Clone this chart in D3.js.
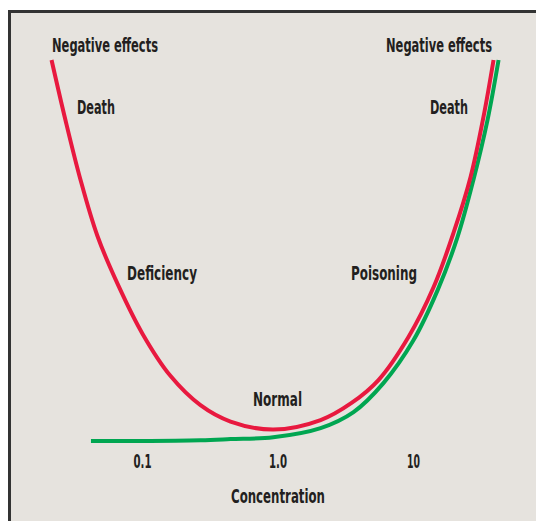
<!DOCTYPE html>
<html>
<head>
<meta charset="utf-8">
<script src="https://cdn.jsdelivr.net/npm/d3@7"></script>
<style>
  body { margin: 0; background: #fff; }
  text { font-family: "Liberation Sans Narrow", "DejaVu Sans Condensed", sans-serif; font-weight: bold; fill: #231f20; }
</style>
</head>
<body>
<div id="chart"></div>
<script>
// concentration (log) vs. negative effects (0 = none, 100 = death)
const deficiencyConc = [0.0215, 0.0272, 0.0352, 0.0469, 0.0671, 0.101, 0.162, 0.27, 0.45, 0.934, 2.08, 3.52, 5.56, 9.26, 14.2, 19.9, 26.6, 33.1, 39.3];
const deficiencyEffect = [100, 84.3, 68.5, 53.8, 40.7, 28.1, 17.1, 9.4, 5.1, 3.0, 5.5, 10, 16, 27.3, 40.4, 54.6, 69.3, 85, 100];

const toxicConc = [0.042, 0.0975, 0.27, 0.45, 0.93, 2.08, 3.64, 6.05, 10.1, 15.2, 21.3, 27.9, 35.5, 42.8];
const toxicEffect = [0, 0, 0.2, 0.5, 1.0, 3.4, 7.6, 15.2, 26.5, 39.6, 53.5, 68.5, 84.3, 100];

const tickValues = [0.1, 1, 10];
const tickLabels = ['0.1', '1.0', '10'];
const labelTexts = ['Negative effects', 'Negative effects', 'Death', 'Death', 'Deficiency', 'Poisoning', 'Normal'];
const axisTitle = 'Concentration';

const width = 536, height = 521;

const svg = d3.select('#chart')
    .append('svg')
    .attr('width', width)
    .attr('height', height);

// panel with a dark frame on the top and left
svg.append('rect')
    .attr('x', 9.5)
    .attr('y', 11.5)
    .attr('width', 600)
    .attr('height', 600)
    .attr('fill', '#e6e3de')
    .attr('stroke', '#333')
    .attr('stroke-width', 3);

const x = d3.scaleLog()
    .domain([0.1, 10])
    .range([142, 413]);

const y = d3.scaleLinear()
    .domain([0, 100])
    .range([441, 60]);

const line = d3.line()
    .x(d => x(d[0]))
    .y(d => y(d[1]))
    .curve(d3.curveCatmullRom.alpha(0.5));

// green first, red on top
svg.append('path')
    .datum(d3.zip(toxicConc, toxicEffect))
    .attr('d', line)
    .attr('fill', 'none')
    .attr('stroke', '#00a651')
    .attr('stroke-width', 4);

svg.append('path')
    .datum(d3.zip(deficiencyConc, deficiencyEffect))
    .attr('d', line)
    .attr('fill', 'none')
    .attr('stroke', '#e8193f')
    .attr('stroke-width', 4);

// axis labels
const axis = d3.axisBottom(x)
    .tickValues(tickValues)
    .tickFormat((d, i) => tickLabels[i])
    .tickSize(0)
    .tickPadding(0);

const gAxis = svg.append('g')
    .attr('transform', 'translate(0,468)')
    .call(axis);
gAxis.select('.domain').remove();
gAxis.selectAll('text')
    .attr('dy', 0)
    .attr('y', 0)
    .attr('fill', '#231f20')
    .style('font-family', '"Liberation Sans Narrow", "DejaVu Sans Condensed", sans-serif')
    .style('font-weight', 'bold')
    .style('font-size', '19px')
    .attr('textLength', (d, i) => [18, 18, 13][i])
    .attr('lengthAdjust', 'spacingAndGlyphs');

svg.append('text')
    .attr('x', 278)
    .attr('y', 503)
    .attr('text-anchor', 'middle')
    .style('font-size', '20px')
    .attr('textLength', 94)
    .attr('lengthAdjust', 'spacingAndGlyphs')
    .text(axisTitle);

// annotations
const labelPos = [
  {x: 52, y: 52, w: 106},
  {x: 386, y: 52, w: 106},
  {x: 77, y: 114, w: 38},
  {x: 430, y: 114, w: 38},
  {x: 127, y: 280, w: 70},
  {x: 351, y: 280, w: 66},
  {x: 253, y: 406, w: 49}
];

svg.selectAll('.label')
    .data(labelTexts)
    .join('text')
    .attr('class', 'label')
    .attr('x', (d, i) => labelPos[i].x)
    .attr('y', (d, i) => labelPos[i].y)
    .attr('textLength', (d, i) => labelPos[i].w)
    .attr('lengthAdjust', 'spacingAndGlyphs')
    .style('font-size', '20px')
    .text(d => d);
</script>
</body>
</html>
